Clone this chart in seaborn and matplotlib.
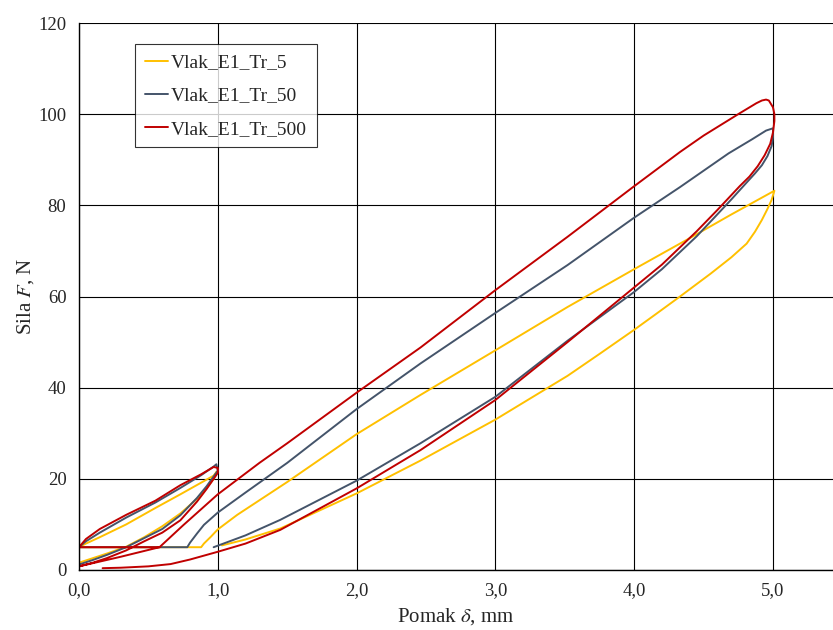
"""
Hysteresis loops of force vs displacement for three loading rates.
"""

import pandas as pd
import numpy as np
import matplotlib
matplotlib.use("Agg")
import matplotlib.pyplot as plt
import seaborn as sns

# --- Data ---
SERIES = ["Vlak_E1_Tr_5", "Vlak_E1_Tr_50", "Vlak_E1_Tr_500"]
COLORS = ["#FFC000", "#44546A", "#C00000"]

# Tr_5 : small loop, preload line, big loop
tr5_x = [0.0, 0.1, 0.2, 0.34, 0.47, 0.6, 0.73, 0.85, 0.92, 0.97, 0.99,
         0.97, 0.9, 0.73, 0.55, 0.34, 0.15, 0.05, 0.0,
         0.88,
         0.9, 0.95, 1.0, 1.14, 1.3, 1.5, 2.0, 2.46, 3.0, 3.52, 4.0, 4.4, 4.7, 5.01,
         4.99, 4.96, 4.92, 4.87, 4.81, 4.7, 4.55, 4.33, 4.15, 4.0, 3.75, 3.52, 3.0, 2.46, 2.0,
         1.45, 1.2, 1.03]
tr5_f = [1.6, 2.6, 3.6, 5.1, 7.2, 9.6, 12.4, 15.6, 18.0, 20.0, 21.5,
         20.7, 19.5, 16.6, 13.6, 10.0, 7.2, 5.8, 5.0,
         5.0,
         5.8, 7.3, 8.9, 12.1, 15.3, 19.3, 29.8, 38.4, 48.2, 57.7, 66.0, 72.8, 78.0, 83.2,
         81.2, 79.2, 76.8, 74.2, 71.6, 68.6, 65.0, 60.0, 56.0, 52.7, 47.4, 42.6, 33.0, 24.0, 16.8,
         9.1, 6.7, 5.4]

# Tr_50
tr50_x = [0.0, 0.1, 0.2, 0.34, 0.47, 0.6, 0.73, 0.85, 0.92, 1.0, 0.99,
          0.97, 0.88, 0.73, 0.55, 0.34, 0.15, 0.05, 0.0,
          0.78,
          0.8, 0.85, 0.9, 1.0, 1.2, 1.5, 2.0, 2.46, 3.0, 3.52, 4.0, 4.33, 4.68, 4.85, 4.95, 5.0,
          5.0, 4.99, 4.96, 4.92, 4.87, 4.81, 4.7, 4.58, 4.45, 4.2, 4.0, 3.52, 3.0, 2.46, 2.0,
          1.45, 1.2, 1.05, 0.97]
tr50_f = [1.2, 2.2, 3.3, 5.0, 7.0, 9.0, 12.0, 15.8, 18.4, 21.8, 23.2,
          22.7, 20.8, 18.0, 14.8, 11.5, 8.2, 6.3, 5.0,
          5.0,
          6.0, 8.0, 9.9, 12.6, 17.0, 23.5, 35.3, 45.3, 56.4, 66.9, 77.3, 84.0, 91.4, 94.5, 96.4, 96.9,
          95.0, 93.0, 90.8, 88.8, 87.0, 85.0, 81.3, 77.4, 73.2, 66.0, 61.0, 50.3, 38.0, 27.8, 19.6,
          11.0, 7.6, 5.9, 5.0]

# Tr_500
tr500_x = [0.58, 0.3, 0.0,
           0.1, 0.2, 0.34, 0.47, 0.6, 0.73, 0.85, 0.92, 1.0, 1.0, 0.97,
           0.88, 0.73, 0.55, 0.34, 0.15, 0.05, 0.0,
           0.58,
           0.75, 1.0, 1.3, 1.5, 2.0, 2.46, 3.0, 3.52, 4.0, 4.33, 4.5, 4.76, 4.88, 4.92, 4.95, 4.97,
           5.0, 5.01,
           5.01, 5.0, 4.98, 4.94, 4.89, 4.83, 4.76, 4.6, 4.45, 4.2, 4.0, 3.52, 3.0, 2.46, 2.0,
           1.45, 1.2, 1.0, 0.8, 0.66, 0.5, 0.3, 0.17]
tr500_f = [5.0, 2.9, 0.8,
           1.6, 2.6, 4.3, 6.3, 8.2, 10.9, 15.0, 17.8, 21.3, 22.4, 22.6,
           21.0, 18.6, 15.2, 12.1, 9.0, 6.8, 5.0,
           5.0,
           9.8, 16.6, 23.5, 27.8, 38.9, 48.8, 61.4, 73.1, 84.2, 91.7, 95.3, 100.2, 102.4, 103.0, 103.2, 103.0,
           101.5, 100.0,
           98.5, 96.0, 93.5, 91.0, 88.6, 86.3, 84.2, 79.0, 74.3, 67.0, 62.0, 50.0, 37.3, 26.3, 17.9,
           8.8, 5.8, 4.0, 2.3, 1.3, 0.8, 0.5, 0.4]

X_TICKS = [0, 1, 2, 3, 4, 5]
X_TICK_LABELS = ["0,0", "1,0", "2,0", "3,0", "4,0", "5,0"]
Y_TICKS = [0, 20, 40, 60, 80, 100, 120]

# --- Build long table ---
frames = []
for name, xs, fs in zip(SERIES, [tr5_x, tr50_x, tr500_x], [tr5_f, tr50_f, tr500_f]):
    frames.append(pd.DataFrame({"x": xs, "F": fs, "series": name}))
df = pd.concat(frames, ignore_index=True)

# --- Style ---
sns.set_style("white")
plt.rcParams["font.family"] = ["Liberation Serif", "DejaVu Serif"]
plt.rcParams["mathtext.fontset"] = "stix"

fig = plt.figure(figsize=(8.33, 6.30), dpi=100)
ax = fig.add_axes([79 / 833, 60 / 630, 754 / 833, 547 / 630])

sns.lineplot(data=df, x="x", y="F", hue="series", hue_order=SERIES,
             palette=COLORS, sort=False, estimator=None, linewidth=1.4, ax=ax)

ax.set_xlim(0, 754 / 138.8)
ax.set_ylim(0, 120)
ax.set_xticks(X_TICKS)
ax.set_xticklabels(X_TICK_LABELS)
ax.set_yticks(Y_TICKS)
ax.grid(True, color="black", linewidth=0.8)
ax.set_axisbelow(True)

for side in ["top", "right"]:
    ax.spines[side].set_visible(False)
for side in ["left", "bottom"]:
    ax.spines[side].set_color("black")
    ax.spines[side].set_linewidth(1.0)

ax.tick_params(axis="both", direction="out", length=5, width=0.8, color="black",
               labelsize=13.5, pad=4)

ax.set_xlabel(r"Pomak $\delta$, mm", fontsize=15, labelpad=5)
ax.set_ylabel(r"Sila $F$, N", fontsize=15, labelpad=2)

leg = ax.legend(loc="upper left", bbox_to_anchor=(135 / 833, 1 - 44 / 630),
                bbox_transform=fig.transFigure, fontsize=14, frameon=True,
                fancybox=False, handlelength=1.2, handletextpad=0.15,
                labelspacing=0.8, borderpad=0.5, borderaxespad=0)
leg.get_frame().set_edgecolor("black")
leg.get_frame().set_linewidth(0.8)
for line in leg.get_lines():
    line.set_linewidth(1.4)

fig.savefig("out.png", dpi=100)
